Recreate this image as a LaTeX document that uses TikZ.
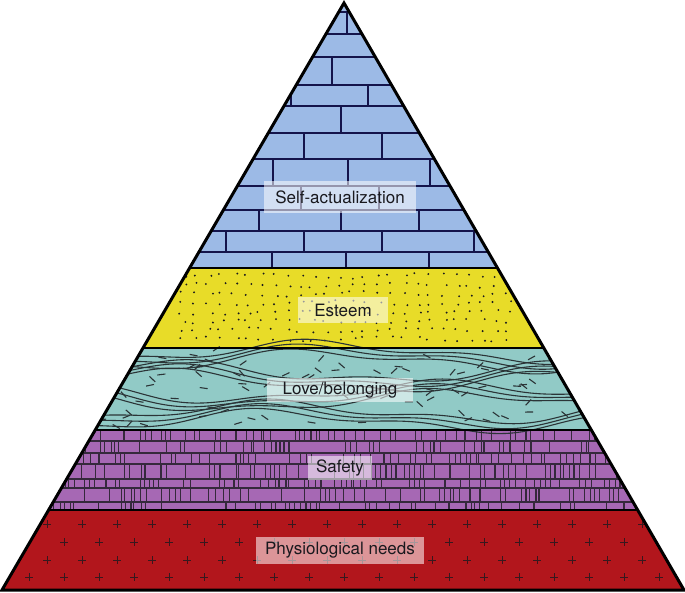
\documentclass[tikz,border=0pt]{standalone}
\usepackage{fontspec}
\newfontfamily\lblfont{TeX Gyre Heros}
\definecolor{cblue}{RGB}{156,186,230}
\definecolor{cyellow}{RGB}{232,220,40}
\definecolor{cteal}{RGB}{145,202,198}
\definecolor{cpurple}{RGB}{166,104,180}
\definecolor{cred}{RGB}{178,22,28}
\definecolor{ink}{RGB}{25,25,30}
\tikzset{
  brick/.style={draw=ink!80!blue, line width=1.1pt},
  wave/.style={draw=ink!85!cteal, line width=1.1pt},
  tick/.style={draw=ink!80!cpurple, line width=1.1pt},
  plusmark/.style={draw=ink!80!cred, line width=0.7pt},
  border/.style={draw=black, line width=3pt, line join=miter},
  divider/.style={draw=black, line width=2.4pt},
  lbl/.style={fill=white, fill opacity=0.55, text opacity=1, text=ink,
    font=\lblfont\fontsize{17}{20}\selectfont, inner sep=0pt, align=center}
}
\begin{document}
\begin{tikzpicture}[x=1pt,y=-1pt]
\useasboundingbox (0,0) rectangle (685,593);
\pgfmathsetseed{17}
\begin{scope}
\clip (344,3) -- (2,590) -- (684,590) -- cycle;
% layer fills
\fill[cblue] (0,0) rectangle (685,268);
\fill[cyellow] (0,268) rectangle (685,348);
\fill[cteal] (0,348) rectangle (685,430);
\fill[cpurple] (0,430) rectangle (685,510);
\fill[cred] (0,510) rectangle (685,593);
% bricks
\foreach \y in {12,34,57,85,106,133,159,186,210,231,252}
  \draw[brick] (0,\y) -- (685,\y);
\foreach \x/\ya/\yb in {339/3/12, 347/12/34, 332/57/85, 291/85/106, 368/85/106,
  341/106/133, 304/133/159, 382/133/159, 273/159/186, 348/159/186, 430/159/186,
  301/186/210, 379/186/210, 259/210/231, 341/210/231, 419/210/231,
  226/231/252, 304/231/252, 382/231/252, 474/231/252,
  272/252/268, 346/252/268, 429/252/268}
  \draw[brick] (\x,\ya) -- (\x,\yb);
% esteem dots
\foreach \yr in {276,285,...,345}{
  \foreach \xr in {183,196,...,515}{
    \pgfmathsetmacro\dx{\xr+4*rand}
    \pgfmathsetmacro\dy{\yr+2*sin(2*\xr+\yr*7)+rand}
    \fill[ink] (\dx,\dy) circle (1.05);
  }
}
% love/belonging waves
\foreach \yb/\ph in {352/0, 372/130, 392/250, 412/40}{
  \foreach \j in {0,1,2}{
    \draw[wave] plot[smooth, domain=60:640, samples=70]
      (\x, {\yb + 4.5*\j + 9*sin(0.85*\x + \ph) + 4*sin(2.1*\x + 1.7*\ph + 20*\j)});
  }
}
\foreach \i in {1,...,90}{
  \pgfmathsetmacro\xx{345+280*rand}
  \pgfmathsetmacro\yy{389+38*rand}
  \pgfmathsetmacro\aa{50*rand}
  \draw[wave] (\xx,\yy) -- ++(\aa:8);
}
% safety bricks
\foreach \y in {441,453,464,479,488,502}
  \draw[tick, line width=1.3pt] (0,\y) -- (685,\y);
\foreach \ya/\yb in {430/441, 441/453, 453/464, 464/479, 479/488, 488/502, 502/510}{
  \foreach \xr in {40,45,...,650}{
    \pgfmathsetmacro\r{rnd}
    \pgfmathsetmacro\tx{\xr+1.5*rand}
    \ifdim \r pt < 0.55pt
      \draw[tick] (\tx,\ya) -- (\tx,\yb);
    \fi
  }
}
% physiological pluses
\foreach \y/\xs in {524/47, 542/64, 560/47, 577/29}{
  \foreach \k in {0,...,18}{
    \pgfmathsetmacro\px{\xs+35*\k}
    \draw[plusmark] ({\px-4},\y) -- ({\px+4},\y) (\px,{\y-4}) -- (\px,{\y+4});
  }
}
% dividers
\foreach \y in {268,348,430,510}
  \draw[divider] (0,\y) -- (685,\y);
\end{scope}
\draw[border] (344,3) -- (2,590) -- (684,590) -- cycle;
% labels
\node[lbl, minimum width=152pt, minimum height=32pt] (sa) at (340,197) {Self-actualization};
\node[lbl, minimum width=90pt, minimum height=26pt] (es) at (343,310) {Esteem};
\node[lbl, minimum width=146pt, minimum height=24pt] (lb) at (340,390) {Love/belonging};
\node[lbl, minimum width=64pt, minimum height=24pt] (sf) at (340,468) {Safety};
\node[lbl, minimum width=168pt, minimum height=27pt] (ph) at (340,550) {Physiological needs};
\end{tikzpicture}
\end{document}
